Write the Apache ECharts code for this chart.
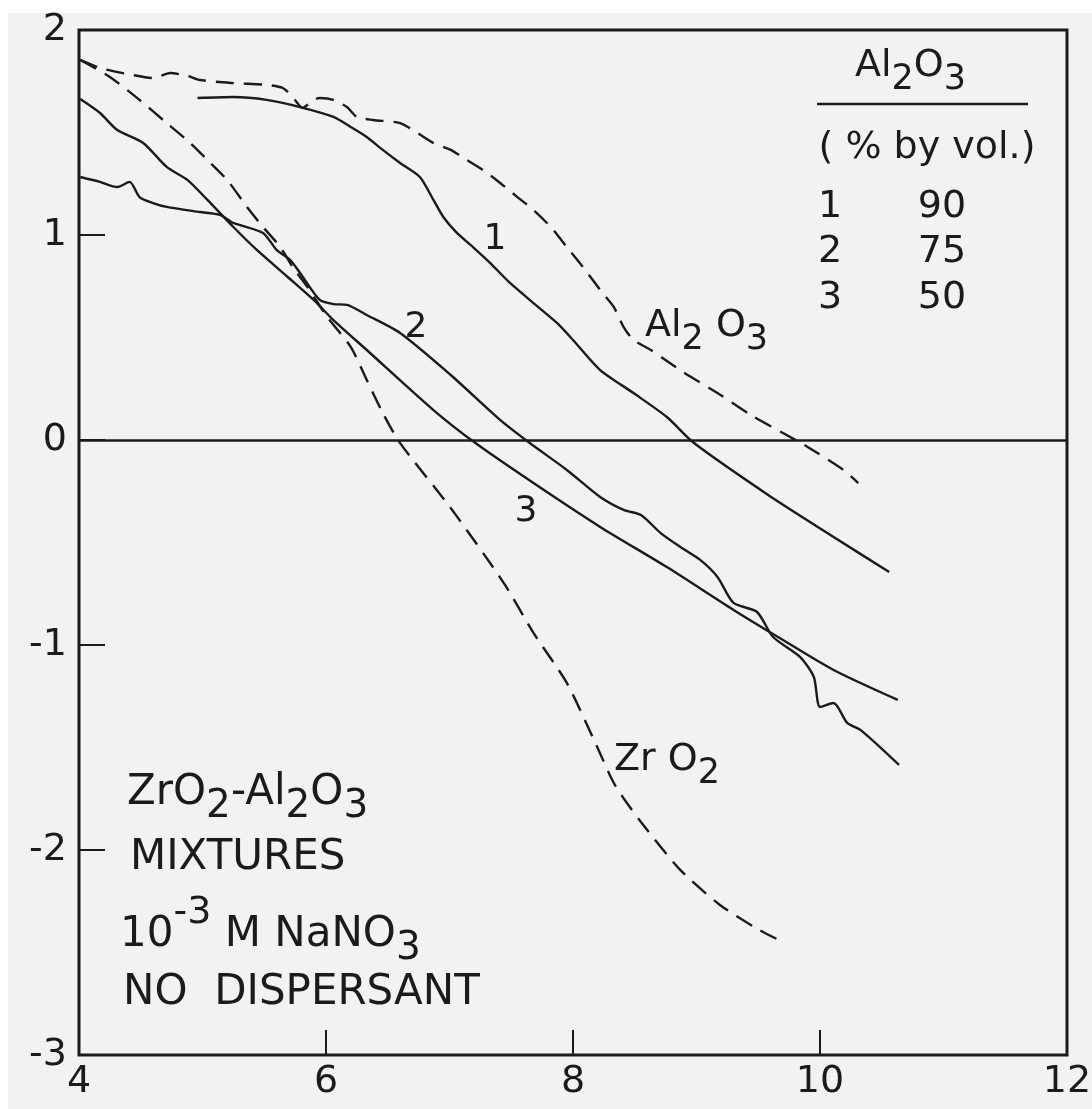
<!DOCTYPE html>
<html><head><meta charset="utf-8">
<script src="https://cdn.jsdelivr.net/npm/echarts@6/dist/echarts.min.js"></script>
<style>html,body{margin:0;padding:0;background:#f2f2f2}#c{width:1092px;height:1109px}</style>
</head><body><div id="c"></div>
<script>
// axis ranges
const xMin = 4, xMax = 12, xStep = 2;
const yMin = -3, yMax = 2, yStep = 1;

// dashed: pure Al2O3
const curveAl2O3 = [[4.01,1.854],[4.17,1.815],[4.44,1.78],[4.60,1.766],[4.74,1.79],[4.88,1.776],[4.98,1.756],[5.25,1.741],[5.52,1.732],[5.65,1.717],[5.73,1.673],[5.81,1.62],[5.90,1.659],[5.95,1.668],[6.06,1.659],[6.17,1.624],[6.25,1.576],[6.38,1.561],[6.60,1.546],[6.74,1.498],[6.87,1.449],[7.01,1.415],[7.14,1.366],[7.27,1.317],[7.41,1.254],[7.55,1.185],[7.68,1.122],[7.82,1.039],[7.95,0.941],[8.08,0.844],[8.22,0.732],[8.33,0.649],[8.41,0.551],[8.49,0.488],[8.63,0.439],[8.89,0.332],[9.17,0.229],[9.44,0.122],[9.70,0.034],[9.90,-0.034],[10.19,-0.146],[10.31,-0.21]];
// solid 1: 90 % Al2O3
const curve1 = [[4.96,1.668],[5.25,1.673],[5.52,1.659],[5.79,1.624],[6.06,1.576],[6.20,1.527],[6.33,1.478],[6.46,1.415],[6.60,1.351],[6.76,1.283],[6.87,1.171],[6.95,1.088],[7.06,1.01],[7.19,0.941],[7.33,0.863],[7.49,0.766],[7.68,0.668],[7.87,0.571],[8.00,0.488],[8.22,0.341],[8.49,0.229],[8.76,0.112],[8.98,-0.015],[9.58,-0.268],[10.11,-0.473],[10.56,-0.644]];
// solid 2: 75 % Al2O3
const curve2 = [[4.01,1.283],[4.17,1.259],[4.31,1.234],[4.41,1.259],[4.49,1.185],[4.60,1.156],[4.71,1.137],[4.98,1.112],[5.14,1.098],[5.25,1.059],[5.49,1.01],[5.60,0.927],[5.71,0.878],[5.79,0.815],[5.95,0.683],[6.06,0.663],[6.17,0.659],[6.33,0.61],[6.60,0.522],[7.01,0.317],[7.41,0.098],[7.65,-0.015],[7.95,-0.146],[8.22,-0.278],[8.41,-0.341],[8.55,-0.366],[8.71,-0.454],[8.87,-0.522],[9.03,-0.585],[9.17,-0.668],[9.30,-0.795],[9.49,-0.839],[9.62,-0.961],[9.84,-1.059],[9.95,-1.156],[10.00,-1.302],[10.11,-1.283],[10.22,-1.38],[10.33,-1.415],[10.64,-1.585]];
// solid 3: 50 % Al2O3
const curve3 = [[4.01,1.663],[4.17,1.595],[4.31,1.512],[4.52,1.449],[4.71,1.332],[4.88,1.268],[5.04,1.171],[5.25,1.039],[5.44,0.927],[5.69,0.795],[5.90,0.683],[6.06,0.585],[6.33,0.439],[6.87,0.146],[7.21,-0.015],[7.68,-0.21],[8.22,-0.424],[8.76,-0.62],[9.30,-0.829],[9.66,-0.961],[10.11,-1.122],[10.63,-1.268]];
// dashed: pure ZrO2
const curveZrO2 = [[4.01,1.854],[4.25,1.771],[4.49,1.659],[4.71,1.546],[4.90,1.449],[5.04,1.366],[5.20,1.268],[5.36,1.137],[5.49,1.039],[5.63,0.941],[5.73,0.844],[5.85,0.746],[6.01,0.6],[6.20,0.454],[6.33,0.293],[6.46,0.132],[6.60,-0.015],[7.01,-0.332],[7.44,-0.698],[7.68,-0.941],[7.95,-1.185],[8.17,-1.463],[8.34,-1.683],[8.55,-1.863],[8.87,-2.098],[9.19,-2.268],[9.48,-2.38],[9.70,-2.449]];

const legendIds = ['1','2','3'];
const legendPct = ['90','75','50'];

const INK = '#1b1b1b';
const FF = 'DejaVu Sans';
function richSet(fs){
  return {
    m:{fontSize:fs,fontFamily:FF,fill:INK,lineHeight:fs,padding:[0,0,14,0]},
    s:{fontSize:fs-3,fontFamily:FF,fill:INK,lineHeight:fs,padding:[14,0,0,0]}
  };
}
function richSup(fs){
  return {
    p:{fontSize:fs-4,fontFamily:FF,fill:INK,lineHeight:fs,padding:[0,0,36,0]},
    m:{fontSize:fs,fontFamily:FF,fill:INK,lineHeight:fs,padding:[22,0,14,0]},
    s:{fontSize:fs-3,fontFamily:FF,fill:INK,lineHeight:fs,padding:[36,0,0,0]}
  };
}
function txt(x,y,text,fs,align){
  return {type:'text',x:x,y:y,silent:true,z:10,
    style:{text:text,fontSize:fs,fontFamily:FF,fill:INK,align:align||'left',verticalAlign:'middle'}};
}
function rtxt(x,y,text,rich,align){
  return {type:'text',x:x,y:y,silent:true,z:10,
    style:{text:text,rich:rich,fill:INK,fontFamily:FF,align:align||'left',verticalAlign:'middle'}};
}

const graphics = [
  {type:'rect',shape:{x:0,y:0,width:1092,height:13},style:{fill:'#ffffff'},silent:true,z:0},
  {type:'rect',shape:{x:0,y:0,width:8,height:1109},style:{fill:'#ffffff'},silent:true,z:0},
  rtxt(855,73,'{m|Al}{s|2}{m|O}{s|3}',richSet(38)),
  {type:'line',shape:{x1:817,y1:104,x2:1028,y2:104},style:{stroke:INK,lineWidth:2.5},silent:true,z:10},
  txt(927,148,'( % by vol.)',38,'center'),
  rtxt(645,333,'{m|Al}{s|2}{m| O}{s|3}',richSet(38)),
  rtxt(614,767,'{m|Zr O}{s|2}',richSet(38)),
  txt(495,240,'1',36,'center'),
  txt(416,328,'2',36,'center'),
  txt(526,512,'3',36,'center'),
  rtxt(127,800,'{m|ZrO}{s|2}{m|-Al}{s|2}{m|O}{s|3}',richSet(42)),
  txt(130,858,'MIXTURES',42),
  rtxt(120,931,'{m|10}{p|-3}{m| M NaNO}{s|3}',richSup(42)),
  txt(123,993,'NO  DISPERSANT',42)
];
legendIds.forEach((id,i)=>{
  const y = 207 + i*45.5;
  graphics.push(txt(830,y,id,38,'center'));
  graphics.push(txt(942,y,legendPct[i],38,'center'));
});

const solid = {color:INK,width:2.4,type:'solid'};
const dashed = {color:INK,width:2.4,type:[18,10]};
function mk(name,data,ls){
  return {name:name,type:'line',data:data,showSymbol:false,symbol:'none',smooth:0.25,lineStyle:ls,silent:true,z:5};
}
const series = [
  mk('Al2O3',curveAl2O3,dashed),
  mk('1',curve1,solid),
  mk('2',curve2,solid),
  mk('3',curve3,solid),
  mk('ZrO2',curveZrO2,dashed)
];
series[1].markLine = {silent:true,symbol:['none','none'],label:{show:false},
  lineStyle:{color:INK,width:2.5,type:'solid'},data:[{yAxis:0}],animation:false};

const chart = echarts.init(document.getElementById('c'),null,{renderer:'canvas'});
chart.setOption({
  backgroundColor:'#f2f2f2',
  animation:false,
  grid:{left:79,top:30,right:25,bottom:54,show:true,borderColor:INK,borderWidth:3,backgroundColor:'transparent',outerBoundsMode:'none'},
  xAxis:{type:'value',min:xMin,max:xMax,interval:xStep,position:'bottom',
    axisLine:{show:false,onZero:false},splitLine:{show:false},
    axisTick:{show:true,inside:true,length:25,lineStyle:{color:INK,width:2}},
    axisLabel:{margin:8,fontSize:38,fontFamily:FF,color:INK}},
  yAxis:{type:'value',min:yMin,max:yMax,interval:yStep,
    axisLine:{show:false,onZero:false},splitLine:{show:false},
    axisTick:{show:true,inside:true,length:26,lineStyle:{color:INK,width:2}},
    axisLabel:{margin:12,fontSize:38,fontFamily:FF,color:INK}},
  graphic:graphics,
  series:series
});
</script></body></html>
